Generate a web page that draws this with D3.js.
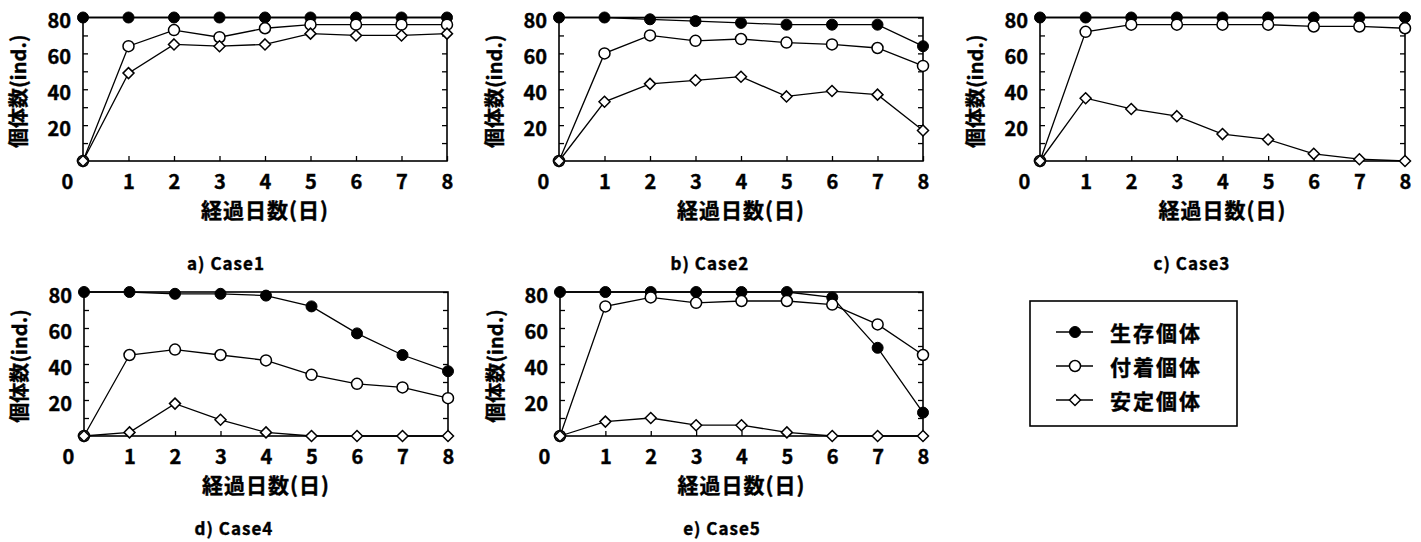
<!DOCTYPE html>
<html>
<head>
<meta charset="utf-8">
<script src="https://cdn.jsdelivr.net/npm/d3@7"></script>
<style>
  body { margin: 0; background: #fff; }
  text { font-family: "Noto Sans CJK JP", "Noto Sans", sans-serif; font-weight: bold; fill: #000; stroke: #000; stroke-width: 0.4px; }
</style>
</head>
<body>
<div id="chart"></div>
<script>
// days on the x axis
let days = [0, 1, 2, 3, 4, 5, 6, 7, 8];
let yTicks = [10, 20, 30, 40, 50, 60, 70, 80];
let seriesNames = ["生存個体", "付着個体", "安定個体"];
let caseLabels = ["a) Case1", "b) Case2", "c) Case3", "d) Case4", "e) Case5"];

// values (individuals)
let case1Alive    = [80, 80, 80, 80, 80, 80, 80, 80, 80];
let case1Attached = [0, 64, 73, 69, 74, 76, 76, 76, 76];
let case1Stable   = [0, 49, 65, 64, 65, 71, 70, 70, 71];

let case2Alive    = [80, 80, 79, 78, 77, 76, 76, 76, 64];
let case2Attached = [0, 60, 70, 67, 68, 66, 65, 63, 53];
let case2Stable   = [0, 33, 43, 45, 47, 36, 39, 37, 17];

let case3Alive    = [80, 80, 80, 80, 80, 80, 80, 80, 80];
let case3Attached = [0, 72, 76, 76, 76, 76, 75, 75, 74];
let case3Stable   = [0, 35, 29, 25, 15, 12, 4, 1, 0];

let case4Alive    = [80, 80, 79, 79, 78, 72, 57, 45, 36];
let case4Attached = [0, 45, 48, 45, 42, 34, 29, 27, 21];
let case4Stable   = [0, 2, 18, 9, 2, 0, 0, 0, 0];

let case5Alive    = [80, 80, 80, 80, 80, 80, 77, 49, 13];
let case5Attached = [0, 72, 77, 74, 75, 75, 73, 62, 45];
let case5Stable   = [0, 8, 10, 6, 6, 2, 0, 0, 0];

let cases = [
    [case1Alive, case1Attached, case1Stable],
    [case2Alive, case2Attached, case2Stable],
    [case3Alive, case3Attached, case3Stable],
    [case4Alive, case4Attached, case4Stable],
    [case5Alive, case5Attached, case5Stable]
];

// where each small plot goes on the page
let panels = [
    { left: 83,  right: 447, top: 17.5, bottom: 161, capX: 226, capY: 262 },
    { left: 559, right: 923, top: 17.5, bottom: 161, capX: 710, capY: 262 },
    { left: 1040, right: 1405, top: 17.5, bottom: 161, capX: 1192, capY: 262 },
    { left: 84,  right: 448, top: 292, bottom: 436, capX: 234, capY: 527 },
    { left: 560, right: 923, top: 292, bottom: 436, capX: 722, capY: 527 }
];

let svg = d3.select("#chart")
    .append("svg")
    .attr("width", 1421)
    .attr("height", 542)
    .style("background", "#fff");

// marker drawing
function drawMarker(g, kind, x, y) {
    if (kind === 0) {
        g.append("circle").attr("cx", x).attr("cy", y).attr("r", 5.5)
            .attr("fill", "#000").attr("stroke", "#000").attr("stroke-width", 1);
    } else if (kind === 1) {
        g.append("circle").attr("cx", x).attr("cy", y).attr("r", 5.5)
            .attr("fill", "#fff").attr("stroke", "#000").attr("stroke-width", 1.5);
    } else {
        let s = 5.5;
        g.append("path")
            .attr("d", "M" + x + "," + (y - s) + "L" + (x + s) + "," + y + "L" + x + "," + (y + s) + "L" + (x - s) + "," + y + "Z")
            .attr("fill", "#fff").attr("stroke", "#000").attr("stroke-width", 1.5);
    }
}

panels.forEach(function (p, idx) {
    let g = svg.append("g");

    let x = d3.scaleLinear().domain([0, 8]).range([p.left, p.right]);
    let y = d3.scaleLinear().domain([0, 80]).range([p.bottom, p.top]);

    // left axis, ticks inward, labels every 20
    let left = g.append("g")
        .attr("transform", "translate(" + p.left + ",0)")
        .call(d3.axisLeft(y).tickValues(yTicks).tickSizeInner(-5).tickSizeOuter(0).tickPadding(12)
            .tickFormat(function (d) { return d % 20 === 0 ? d : ""; }));
    left.selectAll("text").attr("font-size", 20).attr("dy", "0.5em")
        .style("font-family", "'Noto Sans CJK JP'").style("font-weight", "bold");

    // right axis, ticks only
    g.append("g")
        .attr("transform", "translate(" + p.right + ",0)")
        .call(d3.axisRight(y).tickValues(yTicks).tickSizeInner(-5).tickSizeOuter(0).tickFormat(""));

    // bottom axis
    let bottom = g.append("g")
        .attr("transform", "translate(0," + p.bottom + ")")
        .call(d3.axisBottom(x).tickValues(days).tickSizeInner(-5).tickSizeOuter(0).tickPadding(14)
            .tickFormat(d3.format("d")));
    bottom.selectAll("text").attr("font-size", 20)
        .style("font-family", "'Noto Sans CJK JP'").style("font-weight", "bold");
    bottom.selectAll(".tick").filter(function (d) { return d === 0; })
        .select("text").attr("x", -16);

    g.selectAll(".domain").remove();
    g.selectAll(".tick line").attr("stroke", "#000").attr("stroke-width", 1.3);

    // frame
    g.append("rect")
        .attr("x", p.left).attr("y", p.top)
        .attr("width", p.right - p.left).attr("height", p.bottom - p.top)
        .attr("fill", "none").attr("stroke", "#000").attr("stroke-width", 1.6);

    // axis titles
    g.append("text")
        .attr("x", (p.left + p.right) / 2)
        .attr("y", p.bottom + 48)
        .attr("text-anchor", "middle")
        .attr("dominant-baseline", "central")
        .attr("font-size", 21)
        .style("letter-spacing", "1px")
        .text("経過日数(日)");

    let ty = (p.top + p.bottom) / 2 + 2;
    g.append("text")
        .attr("x", p.left - 66)
        .attr("y", ty)
        .attr("text-anchor", "middle")
        .attr("dominant-baseline", "central")
        .attr("font-size", 20)
        .attr("transform", "rotate(-90," + (p.left - 66) + "," + ty + ")")
        .text("個体数(ind.)");

    // caption
    g.append("text")
        .attr("x", p.capX)
        .attr("y", p.capY)
        .attr("text-anchor", "middle")
        .attr("dominant-baseline", "central")
        .attr("font-size", 17)
        .style("letter-spacing", "1px")
        .text(caseLabels[idx]);

    // series lines + markers
    let line = d3.line()
        .x(function (d, i) { return x(days[i]); })
        .y(function (d) { return y(d); });

    cases[idx].forEach(function (vals, k) {
        g.append("path")
            .datum(vals)
            .attr("d", line)
            .attr("fill", "none")
            .attr("stroke", "#000")
            .attr("stroke-width", 1.3);
    });
    cases[idx].forEach(function (vals, k) {
        vals.forEach(function (v, i) { drawMarker(g, k, x(days[i]), y(v)); });
    });
});

// legend
let lg = svg.append("g");
lg.append("rect")
    .attr("x", 1030).attr("y", 301)
    .attr("width", 207).attr("height", 125)
    .attr("fill", "#fff").attr("stroke", "#000").attr("stroke-width", 1.6);

seriesNames.forEach(function (name, k) {
    let cy = 332 + k * 34;
    lg.append("line")
        .attr("x1", 1056).attr("x2", 1093)
        .attr("y1", cy).attr("y2", cy)
        .attr("stroke", "#000").attr("stroke-width", 1.5);
    drawMarker(lg, k, 1075, cy);
    lg.append("text")
        .attr("x", 1110)
        .attr("y", cy)
        .attr("dominant-baseline", "central")
        .attr("font-size", 21)
        .style("letter-spacing", "2px")
        .text(name);
});
</script>
</body>
</html>
